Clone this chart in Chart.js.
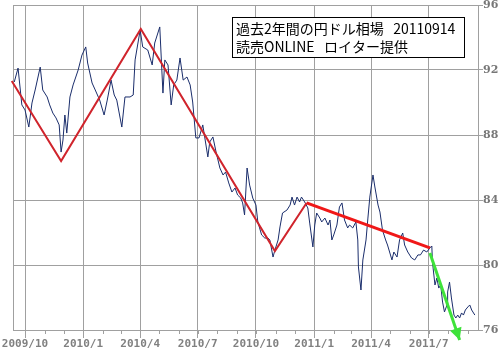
<!DOCTYPE html>
<html><head><meta charset="utf-8">
<script src="https://cdn.jsdelivr.net/npm/chart.js@4"></script>
<style>html,body{margin:0;padding:0;background:#fff}#wrap{width:500px;height:350px;position:relative}</style>
</head><body><div id="wrap"><canvas id="c" width="500" height="350"></canvas></div>
<script>
// days counted from 2009/10/01
const dayOffsets = [-17,-11,-5,0,6,11,16,24,28,35,
39,44,49,54,57,60,63,66,71,76,
84,90,96,99,106,111,118,125,130,136,
141,145,153,158,166,171,174,182,186,194,
201,205,213,218,221,226,231,235,240,245,
250,256,261,265,270,275,281,289,292,297,
302,308,313,317,322,327,332,336,341,344,
347,351,355,360,365,368,374,379,384,387,
392,395,400,403,407,414,419,422,426,430,
434,437,442,447,450,455,458,461,466,469,
474,479,482,485,488,493,497,501,505,510,
513,518,523,526,527,531,534,539,542,545,
550,553,558,561,565,570,573,580,583,588,
592,597,600,605,611,616,621,625,630,635,
640,643,644,648,651,654,657,660,663,667,
668,671,674,678,681,684,687,690,693,696,
700,703,706,711];
const rates = [91.26,92.12,89.85,89.54,88.49,89.97,90.77,92.18,90.77,90.34,
89.85,89.35,89.05,88.62,86.95,87.69,89.23,88.12,90.34,91.08,
92.0,92.92,93.42,92.43,91.2,90.77,90.15,89.23,90.15,91.38,
90.46,90.15,88.49,90.34,90.34,90.46,92.62,94.46,93.42,93.23,
92.31,93.66,94.65,90.58,92.62,92.31,89.85,91.08,91.38,92.74,
91.38,91.57,91.08,90.03,87.82,87.82,88.62,86.65,87.57,87.88,
86.95,85.97,85.54,85.72,85.05,84.49,84.74,84.31,84.12,83.82,
83.08,85.97,84.92,84.12,83.69,82.65,81.85,81.66,81.66,81.54,
80.49,80.92,81.54,82.34,83.2,83.38,83.69,84.18,83.69,84.18,
83.88,84.18,83.88,83.51,82.58,81.11,82.46,83.2,82.89,82.65,
82.89,82.46,82.77,81.54,81.85,82.46,83.57,83.82,82.77,82.28,
82.46,82.28,82.65,81.54,79.88,78.46,80.31,81.54,82.89,84.18,
85.54,84.8,83.69,83.26,82.15,81.54,81.23,80.31,80.8,80.49,
81.54,81.97,81.23,80.8,80.43,80.31,80.62,80.62,80.92,80.8,
81.05,81.17,80.18,78.77,79.2,78.58,78.77,77.72,77.11,77.54,
78.34,78.95,77.97,76.92,76.74,76.92,76.74,77.05,76.92,77.23,
77.42,77.54,77.23,76.92];

const quarterTicks = [0,92,182,273,365,457,547,638];
const quarterLabels = ['2009/10','2010/1','2010/4','2010/7','2010/10','2011/1','2011/4','2011/7'];
const monthTicks = [0,31,61,92,123,151,182,212,243,273,304,335,365,396,426,457,488,516,547,577,608,638,669,700];
const yTicks = [76,80,84,88,92,96];

const redTrendDays = [-21,57,183,395,445];
const redTrendValues = [91.32,86.40,94.52,80.86,83.82];
const redThickDays = [445,640];
const redThickValues = [83.82,81.05];
const greenDays = [640,687];
const greenValues = [80.74,75.38];

const titleLines = ['過去2年間の円ドル相場   20110914','読売ONLINE   ロイター提供'];

const pts = (xs, ys) => xs.map((d,i)=>({x:d,y:ys[i]}));
const GRID = '#a0a0a0';

const decor = {
  id:'decor',
  beforeDatasetsDraw(chart){
    const {ctx, chartArea:a} = chart;
    ctx.save();
    ctx.strokeStyle = GRID; ctx.lineWidth = 1;
    ctx.beginPath(); ctx.moveTo(Math.round(a.left)+0.5, a.top); ctx.lineTo(Math.round(a.left)+0.5, a.bottom); ctx.stroke();
    ctx.restore();
  },
  afterDatasetsDraw(chart){
    const {ctx, chartArea:a, scales:{x}} = chart;
    ctx.save();
    ctx.strokeStyle = GRID; ctx.lineWidth = 1;
    monthTicks.forEach(d=>{
      const px = Math.round(x.getPixelForValue(d))+0.5;
      ctx.beginPath(); ctx.moveTo(px, a.bottom); ctx.lineTo(px, a.bottom+4); ctx.stroke();
    });
    // arrow head for green trend
    const m = chart.getDatasetMeta(3);
    const p0 = m.data[0], p1 = m.data[1];
    const ang = Math.atan2(p1.y-p0.y, p1.x-p0.x);
    const L = 12, W = 6;
    ctx.fillStyle = '#3ee23a';
    ctx.beginPath();
    ctx.moveTo(p1.x, p1.y);
    ctx.lineTo(p1.x - L*Math.cos(ang) + W*Math.sin(ang), p1.y - L*Math.sin(ang) - W*Math.cos(ang));
    ctx.lineTo(p1.x - L*Math.cos(ang) - W*Math.sin(ang), p1.y - L*Math.sin(ang) + W*Math.cos(ang));
    ctx.closePath(); ctx.fill();
    // title box
    ctx.fillStyle = '#fff'; ctx.fillRect(232, 17, 232, 40);
    ctx.strokeStyle = '#000'; ctx.strokeRect(232.5, 17.5, 232, 40);
    ctx.fillStyle = '#000';
    ctx.font = '14px "Noto Sans CJK JP"';
    ctx.textBaseline = 'middle'; ctx.textAlign = 'left';
    ctx.fillText(titleLines[0], 236, 29);
    ctx.fillText(titleLines[1], 236, 47);
    ctx.restore();
  }
};

new Chart(document.getElementById('c'), {
  type:'line',
  data:{datasets:[
    {data:pts(redTrendDays, redTrendValues), borderColor:'#d0242c', borderWidth:2, pointRadius:0, tension:0, clip:false, order:1},
    {data:pts(redThickDays, redThickValues), borderColor:'#f01818', borderWidth:3, pointRadius:0, tension:0, clip:false, order:1},
    {data:pts(dayOffsets, rates), borderColor:'#1a2d6b', borderWidth:1, pointRadius:0, tension:0, order:5},
    {data:pts(greenDays, greenValues), borderColor:'#3ee23a', borderWidth:3, pointRadius:0, tension:0, clip:false, order:0}
  ]},
  options:{
    responsive:false, animation:false, devicePixelRatio:1,
    layout:{padding:{left:13, top:5, right:0, bottom:0}},
    plugins:{legend:{display:false}, tooltip:{enabled:false}},
    scales:{
      x:{type:'linear', min:-19, max:716,
        afterBuildTicks:s=>{ s.ticks = quarterTicks.map(v=>({value:v})); },
        afterFit:s=>{ s.height = 20; s.paddingLeft = 0; s.paddingRight = 0; },
        grid:{color:GRID, tickLength:8, tickColor:GRID},
        border:{color:GRID},
        ticks:{autoSkip:false, maxRotation:0, minRotation:0, padding:0, color:'#808080',
          font:{family:'DejaVu Sans Mono', size:11, weight:'bold'},
          callback:(v)=>quarterLabels[quarterTicks.indexOf(v)]}
      },
      y:{position:'right', min:76, max:96,
        afterBuildTicks:s=>{ s.ticks = yTicks.map(v=>({value:v})); },
        afterFit:s=>{ s.width = 22; s.paddingTop = 0; s.paddingBottom = 0; },
        grid:{color:GRID, tickLength:5, tickColor:GRID},
        border:{color:GRID},
        ticks:{padding:0, color:'#777', font:{family:'DejaVu Serif', size:11, weight:'bold'}}
      }
    }
  },
  plugins:[decor]
});
</script></body></html>
